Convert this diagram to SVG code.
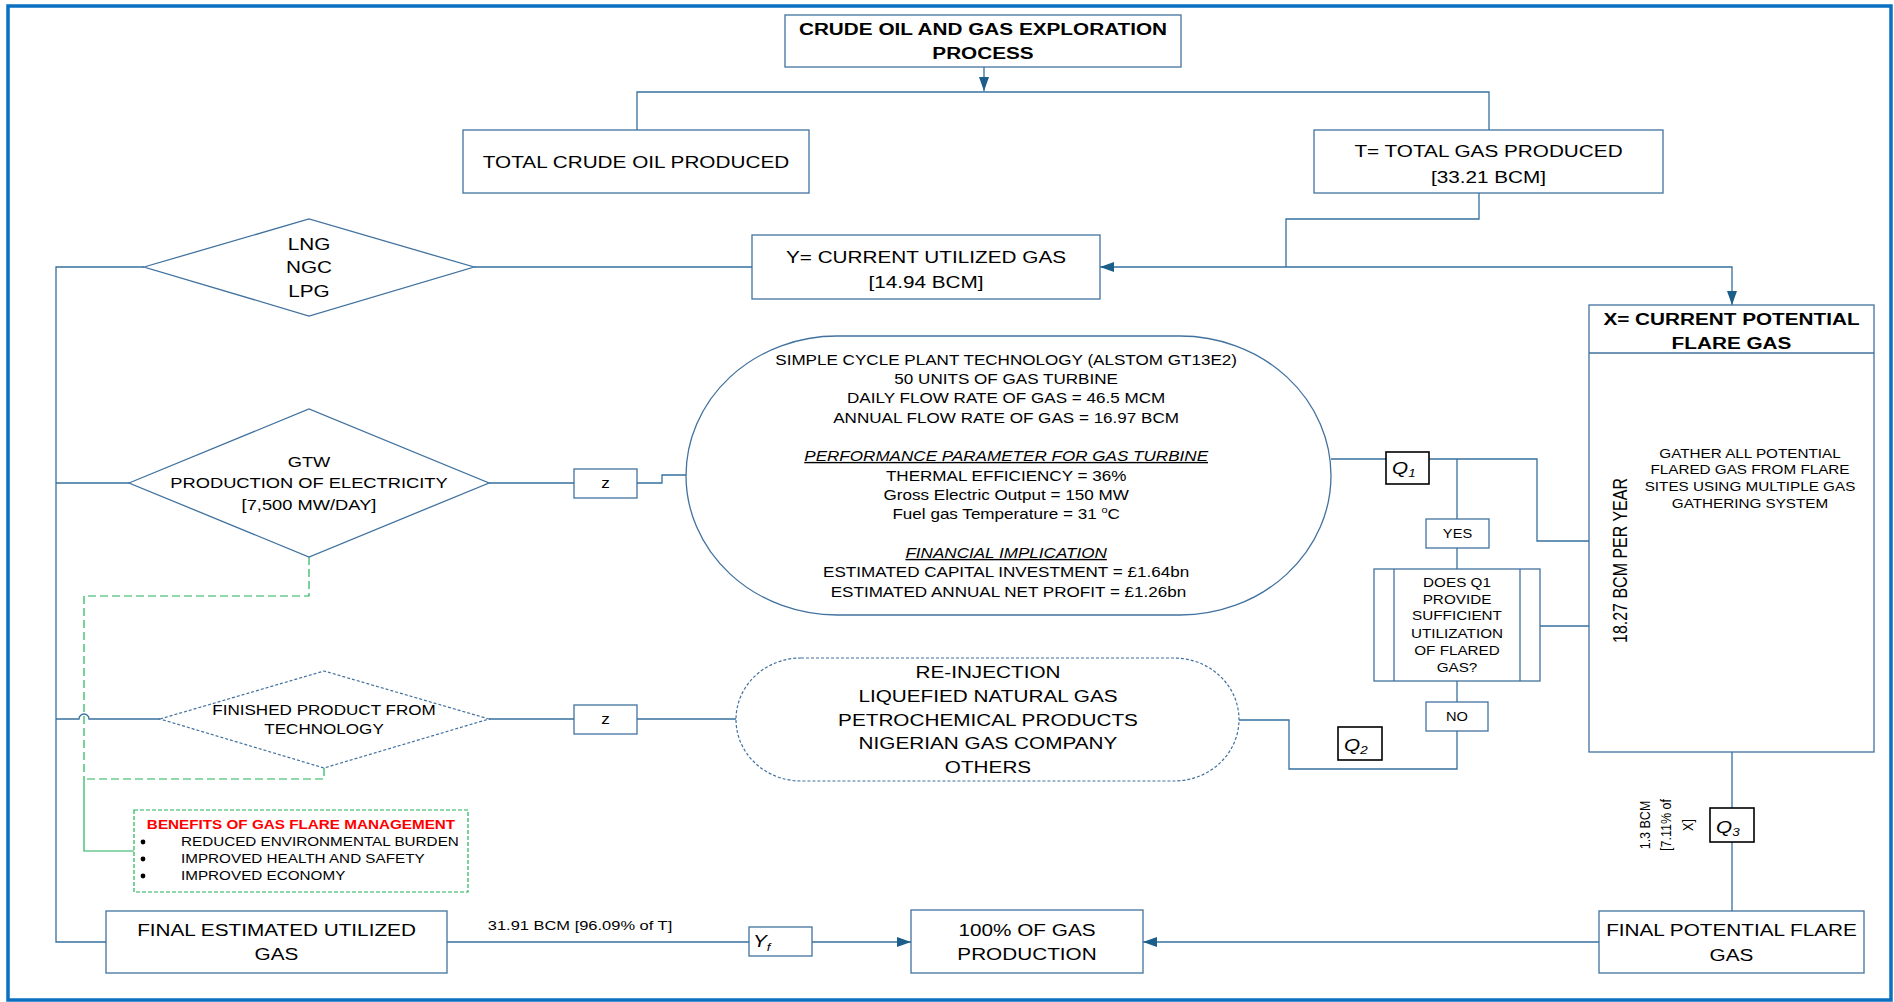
<svg xmlns="http://www.w3.org/2000/svg" width="1894" height="1002" viewBox="0 0 1894 1002">
  <style>
    .box { fill: #ffffff; stroke: #41729f; stroke-width: 1.3; }
    .dash { fill: #ffffff; stroke: #41729f; stroke-width: 1.2; stroke-dasharray: 3 2; }
    .qbox { fill: #ffffff; stroke: #000000; stroke-width: 1.6; }
    .ln { fill: none; stroke: #34709e; stroke-width: 1.3; }
    .grn { fill: none; stroke: #22b25a; stroke-width: 1.2; stroke-dasharray: 8 4; }
    .grns { fill: none; stroke: #22b25a; stroke-width: 1.2; }
    .t { font-family: "Liberation Sans", Arial, sans-serif; fill: #000000; }
    .mid { text-anchor: middle; }
    .s17 { font-size: 17px; }
    .s16 { font-size: 16px; }
    .s15 { font-size: 15px; }
    .s14 { font-size: 14px; }
    .s135 { font-size: 13.5px; }
    .s125 { font-size: 12.5px; }
    .s12 { font-size: 12px; }
    .b { font-weight: bold; }
    .it { font-style: italic; }
    .ul { text-decoration: underline; }
  </style>
  <defs>
    <marker id="arrow" viewBox="0 0 14 10" refX="14" refY="5" markerWidth="14" markerHeight="10" markerUnits="userSpaceOnUse" orient="auto">
      <path d="M0,0 L14,5 L0,10 z" fill="#1b5e8a"/>
    </marker>
  </defs>

  <rect width="1894" height="1002" fill="#ffffff"/>
  <!-- outer frame -->
  <rect x="8" y="6" width="1883" height="994" fill="none" stroke="#0a70c2" stroke-width="3.5"/>

  <!-- connectors -->
  <g id="connectors">
    <line class="ln" x1="984" y1="67" x2="984" y2="91" marker-end="url(#arrow)"/>
    <polyline class="ln" points="637,130 637,92 1489,92 1489,130"/>
    <polyline class="ln" points="1479,193 1479,219 1286,219 1286,267"/>
    <line class="ln" x1="1286" y1="267" x2="1100" y2="267" marker-end="url(#arrow)"/>
    <polyline class="ln" points="1286,267 1732,267 1732,305" marker-end="url(#arrow)"/>
    <line class="ln" x1="474" y1="267" x2="752" y2="267"/>
    <polyline class="ln" points="144,267 56,267 56,942 106,942"/>
    <line class="ln" x1="56" y1="483" x2="129" y2="483"/>
    <line class="ln" x1="489" y1="483" x2="574" y2="483"/>
    <polyline class="ln" points="637,483 662,483 662,475 686,475"/>
    <path class="ln" d="M56,719 H79 A5,5 0 0 1 89,719 H160"/>
    <line class="ln" x1="489" y1="719" x2="574" y2="719"/>
    <line class="ln" x1="637" y1="719" x2="736" y2="719"/>
    <line class="ln" x1="1331" y1="459" x2="1386" y2="459"/>
    <polyline class="ln" points="1429,459 1537,459 1537,541 1590,541"/>
    <line class="ln" x1="1457" y1="459" x2="1457" y2="519"/>
    <line class="ln" x1="1457" y1="548" x2="1457" y2="569"/>
    <line class="ln" x1="1457" y1="681" x2="1457" y2="702"/>
    <polyline class="ln" points="1457,731 1457,769 1289,769 1289,720 1239,720"/>
    <line class="ln" x1="1540" y1="626" x2="1590" y2="626"/>
    <line class="ln" x1="1732" y1="752" x2="1732" y2="808"/>
    <line class="ln" x1="1732" y1="842" x2="1732" y2="911"/>
    <line class="ln" x1="1599" y1="942" x2="1143" y2="942" marker-end="url(#arrow)"/>
    <line class="ln" x1="447" y1="942" x2="749" y2="942"/>
    <line class="ln" x1="812" y1="942" x2="911" y2="942" marker-end="url(#arrow)"/>
    <!-- benefit links -->
    <polyline class="grn" points="309,557 309,596 84,596 84,779"/>
    <polyline class="grn" points="324,768 324,779 84,779"/>
    <polyline class="grns" points="84,779 84,851 134,851"/>
    <text class="t s135" transform="matrix(1.22 0 0 1 580 0)" text-anchor="middle"><tspan x="0" y="930">31.91 BCM [96.09% of T]</tspan></text>
    <text class="t s125" text-anchor="middle" transform="translate(1649.5 825) rotate(-90) scale(1 1.22)">1.3 BCM</text>
    <text class="t s125" text-anchor="middle" transform="translate(1670.5 825) rotate(-90) scale(1 1.22)">[7.11% of</text>
    <text class="t s125" text-anchor="middle" transform="translate(1693 825) rotate(-90) scale(1 1.22)">X]</text>
  </g>

  <g id="exploration">
    <rect class="box" x="785" y="15" width="396" height="52"/>
    <text class="t s17 b mid" transform="matrix(1.22 0 0 1 983 0)"><tspan x="0" y="35">CRUDE OIL AND GAS EXPLORATION</tspan><tspan x="0" y="59">PROCESS</tspan></text>
  </g>

  <g id="crude-oil">
    <rect class="box" x="463" y="130" width="346" height="63"/>
    <text class="t s17 mid" transform="matrix(1.22 0 0 1 636 0)"><tspan x="0" y="168">TOTAL CRUDE OIL PRODUCED</tspan></text>
  </g>

  <g id="total-gas">
    <rect class="box" x="1314" y="130" width="349" height="63"/>
    <text class="t s17 mid" transform="matrix(1.22 0 0 1 1488.5 0)"><tspan x="0" y="157">T= TOTAL GAS PRODUCED</tspan><tspan x="0" y="183">[33.21 BCM]</tspan></text>
  </g>

  <g id="utilized-gas">
    <rect class="box" x="752" y="235" width="348" height="64"/>
    <text class="t s17 mid" transform="matrix(1.22 0 0 1 926 0)"><tspan x="0" y="263">Y= CURRENT UTILIZED GAS</tspan><tspan x="0" y="288">[14.94 BCM]</tspan></text>
  </g>

  <g id="lng-ngc-lpg">
    <polygon class="box" points="144,267 309,219 474,267 309,316"/>
    <text class="t s17 mid" transform="matrix(1.22 0 0 1 309 0)"><tspan x="0" y="250">LNG</tspan><tspan x="0" y="273">NGC</tspan><tspan x="0" y="297">LPG</tspan></text>
  </g>

  <g id="potential-flare">
    <rect class="box" x="1589" y="305" width="285" height="447"/>
    <line class="box" x1="1589" y1="353" x2="1874" y2="353"/>
    <text class="t s17 b mid" transform="matrix(1.22 0 0 1 1731.5 0)"><tspan x="0" y="325">X= CURRENT POTENTIAL</tspan><tspan x="0" y="349">FLARE GAS</tspan></text>
    <text class="t s16" text-anchor="start" transform="translate(1627 643) rotate(-90) scale(1 1.22)">18.27 BCM PER YEAR</text>
    <text class="t s125 mid" transform="matrix(1.22 0 0 1 1750 0)"><tspan x="0" y="458">GATHER ALL POTENTIAL</tspan><tspan x="0" y="474">FLARED GAS FROM FLARE</tspan><tspan x="0" y="491">SITES USING MULTIPLE GAS</tspan><tspan x="0" y="508">GATHERING SYSTEM</tspan></text>
  </g>

  <g id="gtw">
    <polygon class="box" points="129,483 309,409 489,483 309,557"/>
    <text class="t s15 mid" transform="matrix(1.22 0 0 1 309 0)"><tspan x="0" y="467">GTW</tspan><tspan x="0" y="488">PRODUCTION OF ELECTRICITY</tspan><tspan x="0" y="510">[7,500 MW/DAY]</tspan></text>
  </g>

  <g id="z-gtw">
    <rect class="box" x="574" y="469" width="63" height="29"/>
    <text class="t s14 mid" transform="matrix(1.22 0 0 1 605.5 0)"><tspan x="0" y="488">z</tspan></text>
  </g>

  <g id="simple-cycle">
    <rect class="box" x="686" y="336" width="645" height="279" rx="151" ry="139.5"/>
    <text class="t s14 mid" transform="matrix(1.22 0 0 1 1008.5 0)">
      <tspan x="0" y="365">SIMPLE CYCLE PLANT TECHNOLOGY (ALSTOM GT13E2)</tspan>
      <tspan x="0" y="384">50 UNITS OF GAS TURBINE</tspan>
      <tspan x="0" y="403">DAILY FLOW RATE OF GAS = 46.5 MCM</tspan>
      <tspan x="0" y="423">ANNUAL FLOW RATE OF GAS = 16.97 BCM</tspan>
      <tspan x="0" y="461" class="it ul">PERFORMANCE PARAMETER FOR GAS TURBINE</tspan>
      <tspan x="0" y="481">THERMAL EFFICIENCY = 36%</tspan>
      <tspan x="0" y="500">Gross Electric Output = 150 MW</tspan>
      <tspan x="0" y="519">Fuel gas Temperature = 31 <tspan font-size="9" dy="-6">o</tspan><tspan dy="6">C</tspan></tspan>
      <tspan x="0" y="558" class="it ul">FINANCIAL IMPLICATION</tspan>
      <tspan x="0" y="577">ESTIMATED CAPITAL INVESTMENT = £1.64bn</tspan>
      <tspan x="0" y="597">ESTIMATED ANNUAL NET PROFIT = £1.26bn</tspan>
    </text>
  </g>

  <g id="q1">
    <rect class="qbox" x="1386" y="452" width="43" height="32"/>
    <text class="t s17 it" transform="matrix(1.22 0 0 1 1392 0)"><tspan x="0" y="474">Q</tspan><tspan font-size="11" dy="3">1</tspan></text>
  </g>

  <g id="yes">
    <rect class="box" x="1426" y="519" width="63" height="29"/>
    <text class="t s12 mid" transform="matrix(1.22 0 0 1 1457.5 0)"><tspan x="0" y="538">YES</tspan></text>
  </g>

  <g id="decision">
    <rect class="box" x="1374" y="569" width="166" height="112"/>
    <line class="box" x1="1394" y1="569" x2="1394" y2="681"/>
    <line class="box" x1="1520" y1="569" x2="1520" y2="681"/>
    <text class="t s125 mid" transform="matrix(1.22 0 0 1 1457 0)"><tspan x="0" y="587">DOES Q1</tspan><tspan x="0" y="604">PROVIDE</tspan><tspan x="0" y="620.5">SUFFICIENT</tspan><tspan x="0" y="638.5">UTILIZATION</tspan><tspan x="0" y="655.5">OF FLARED</tspan><tspan x="0" y="672">GAS?</tspan></text>
  </g>

  <g id="no">
    <rect class="box" x="1426" y="702" width="62" height="29"/>
    <text class="t s12 mid" transform="matrix(1.22 0 0 1 1457 0)"><tspan x="0" y="721">NO</tspan></text>
  </g>

  <g id="q2">
    <rect class="qbox" x="1338" y="727" width="44" height="33"/>
    <text class="t s17 it" transform="matrix(1.22 0 0 1 1344 0)"><tspan x="0" y="751">Q</tspan><tspan font-size="11" dy="3">2</tspan></text>
  </g>

  <g id="finished-product">
    <polygon class="dash" points="160,719 324,671 489,719 324,768"/>
    <text class="t s14 mid" transform="matrix(1.22 0 0 1 324 0)"><tspan x="0" y="715">FINISHED PRODUCT FROM</tspan><tspan x="0" y="734">TECHNOLOGY</tspan></text>
  </g>

  <g id="z-finished">
    <rect class="box" x="574" y="705" width="63" height="29"/>
    <text class="t s14 mid" transform="matrix(1.22 0 0 1 605.5 0)"><tspan x="0" y="724">z</tspan></text>
  </g>

  <g id="products">
    <rect class="dash" x="736" y="658" width="503" height="123" rx="65" ry="61.5"/>
    <text class="t s17 mid" transform="matrix(1.22 0 0 1 988 0)"><tspan x="0" y="678">RE-INJECTION</tspan><tspan x="0" y="702">LIQUEFIED NATURAL GAS</tspan><tspan x="0" y="726">PETROCHEMICAL PRODUCTS</tspan><tspan x="0" y="749">NIGERIAN GAS COMPANY</tspan><tspan x="0" y="773">OTHERS</tspan></text>
  </g>

  <g id="benefits">
    <rect x="134" y="810" width="334" height="82" fill="#ffffff" stroke="#22b25a" stroke-width="1.2" stroke-dasharray="4 2"/>
    <text class="t s125 b mid" transform="matrix(1.22 0 0 1 301 0)" style="fill:#ff0000"><tspan x="0" y="829">BENEFITS OF GAS FLARE MANAGEMENT</tspan></text>
    <circle cx="143" cy="842" r="2.4" fill="#000000"/>
    <circle cx="143" cy="859" r="2.4" fill="#000000"/>
    <circle cx="143" cy="876" r="2.4" fill="#000000"/>
    <text class="t s125" transform="matrix(1.22 0 0 1 181 0)"><tspan x="0" y="846.5">REDUCED ENVIRONMENTAL BURDEN</tspan><tspan x="0" y="863.5">IMPROVED HEALTH AND SAFETY</tspan><tspan x="0" y="880.5">IMPROVED ECONOMY</tspan></text>
  </g>

  <g id="q3">
    <rect class="qbox" x="1710" y="808" width="44" height="34"/>
    <text class="t s17 it" transform="matrix(1.22 0 0 1 1716 0)"><tspan x="0" y="833">Q</tspan><tspan font-size="11" dy="3">3</tspan></text>
  </g>

  <g id="final-utilized">
    <rect class="box" x="106" y="911" width="341" height="62"/>
    <text class="t s17 mid" transform="matrix(1.22 0 0 1 276.5 0)"><tspan x="0" y="936">FINAL ESTIMATED UTILIZED</tspan><tspan x="0" y="960">GAS</tspan></text>
  </g>

  <g id="yf">
    <rect class="box" x="749" y="927" width="63" height="29"/>
    <text class="t s17 it" transform="matrix(1.22 0 0 1 753 0)"><tspan x="0" y="947">Y</tspan><tspan font-size="11" dy="4">f</tspan></text>
  </g>

  <g id="total-production">
    <rect class="box" x="911" y="910" width="232" height="63"/>
    <text class="t s17 mid" transform="matrix(1.22 0 0 1 1027 0)"><tspan x="0" y="936">100% OF GAS</tspan><tspan x="0" y="960">PRODUCTION</tspan></text>
  </g>

  <g id="final-flare">
    <rect class="box" x="1599" y="911" width="265" height="62"/>
    <text class="t s17 mid" transform="matrix(1.22 0 0 1 1731.5 0)"><tspan x="0" y="936">FINAL POTENTIAL FLARE</tspan><tspan x="0" y="961">GAS</tspan></text>
  </g>
</svg>
